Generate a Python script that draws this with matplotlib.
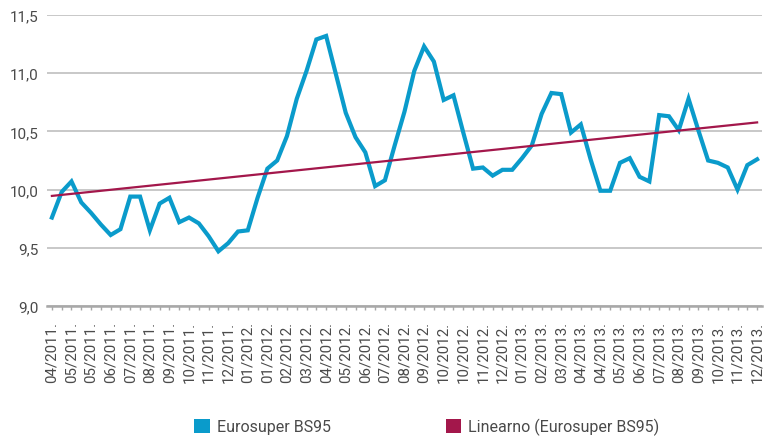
import numpy as np
import matplotlib
matplotlib.use("Agg")
import matplotlib.pyplot as plt
from matplotlib.patches import Patch

# -----------------------
# Data
# -----------------------
month_labels = [
    "04/2011.", "05/2011.", "05/2011.", "06/2011.", "07/2011.", "08/2011.",
    "09/2011.", "10/2011.", "11/2011.", "12/2011.", "01/2012.", "01/2012.",
    "02/2012.", "03/2012.", "04/2012.", "05/2012.", "06/2012.", "07/2012.",
    "08/2012.", "09/2012.", "10/2012.", "10/2012.", "11/2012.", "12/2012.",
    "01/2013.", "02/2013.", "03/2013.", "04/2013.", "04/2013.", "05/2013.",
    "06/2013.", "07/2013.", "08/2013.", "09/2013.", "10/2013.", "11/2013.",
    "12/2013.",
]

eurosuper = [
    9.76, 9.98, 10.07, 9.89, 9.80, 9.70, 9.61, 9.66, 9.94, 9.94,
    9.65, 9.88, 9.93, 9.72, 9.76, 9.71, 9.60, 9.47, 9.54, 9.64,
    9.65, 9.93, 10.18, 10.25, 10.46, 10.78, 11.02, 11.29, 11.32, 10.99,
    10.66, 10.45, 10.32, 10.03, 10.08, 10.38, 10.67, 11.02, 11.23, 11.10,
    10.77, 10.81, 10.49, 10.18, 10.19, 10.12, 10.17, 10.17, 10.27, 10.38,
    10.65, 10.83, 10.82, 10.49, 10.56, 10.26, 9.99, 9.99, 10.23, 10.27,
    10.11, 10.07, 10.64, 10.63, 10.51, 10.78, 10.51, 10.25, 10.23, 10.19,
    10.00, 10.21, 10.26,
]

# -----------------------
# Style
# -----------------------
BLUE = "#0A9BCB"
MAROON = "#A3174B"
GRID = "#C4C4C4"
TEXT = "#4A4A4A"
plt.rcParams["font.family"] = ["Roboto", "DejaVu Sans"]

x = np.arange(len(eurosuper))
y = np.array(eurosuper)

# linear trend (like the spreadsheet's "Linearno")
coef = np.polyfit(x, y, 1)
trend = np.polyval(coef, x)

fig = plt.figure(figsize=(7.65, 4.39), dpi=100)
ax = fig.add_axes([47 / 765, 1 - 307 / 439, 715 / 765, 291 / 439])

ax.plot(x, y, color=BLUE, linewidth=3.0, solid_joinstyle="miter", zorder=3)
ax.plot(x, trend, color=MAROON, linewidth=1.6, zorder=4)

ax.set_ylim(9.0, 11.5)
ax.set_xlim(-0.5, len(x) - 0.5)
yt = np.arange(9.0, 11.51, 0.5)
ax.set_yticks(yt)
ax.set_yticklabels([f"{v:.1f}".replace(".", ",") for v in yt])
ax.yaxis.grid(True, color=GRID, linewidth=1.3)
ax.set_axisbelow(True)

ax.set_xticks(x[::2])
ax.set_xticklabels(month_labels, rotation=90)
ax.set_xticks(x, minor=True)

for s in ["top", "right", "left"]:
    ax.spines[s].set_visible(False)
ax.spines["bottom"].set_color("#A8A8A8")
ax.spines["bottom"].set_linewidth(1.8)

ax.tick_params(axis="y", length=0, pad=6, labelsize=11, labelcolor=TEXT)
ax.tick_params(axis="x", which="both", length=3, color="#A8A8A8", width=1,
               pad=8, labelsize=10.8, labelcolor=TEXT)

handles = [Patch(facecolor=BLUE, edgecolor="none"),
           Patch(facecolor=MAROON, edgecolor="none")]
fig.legend(handles, ["Eurosuper BS95", "Linearno (Eurosuper BS95)"],
           loc="center", bbox_to_anchor=(0.558, 0.026), ncol=2,
           frameon=False, fontsize=11.5, labelcolor=TEXT,
           handlelength=0.95, handleheight=0.95, handletextpad=0.45,
           columnspacing=7.2)

fig.savefig("out.png", dpi=100)
